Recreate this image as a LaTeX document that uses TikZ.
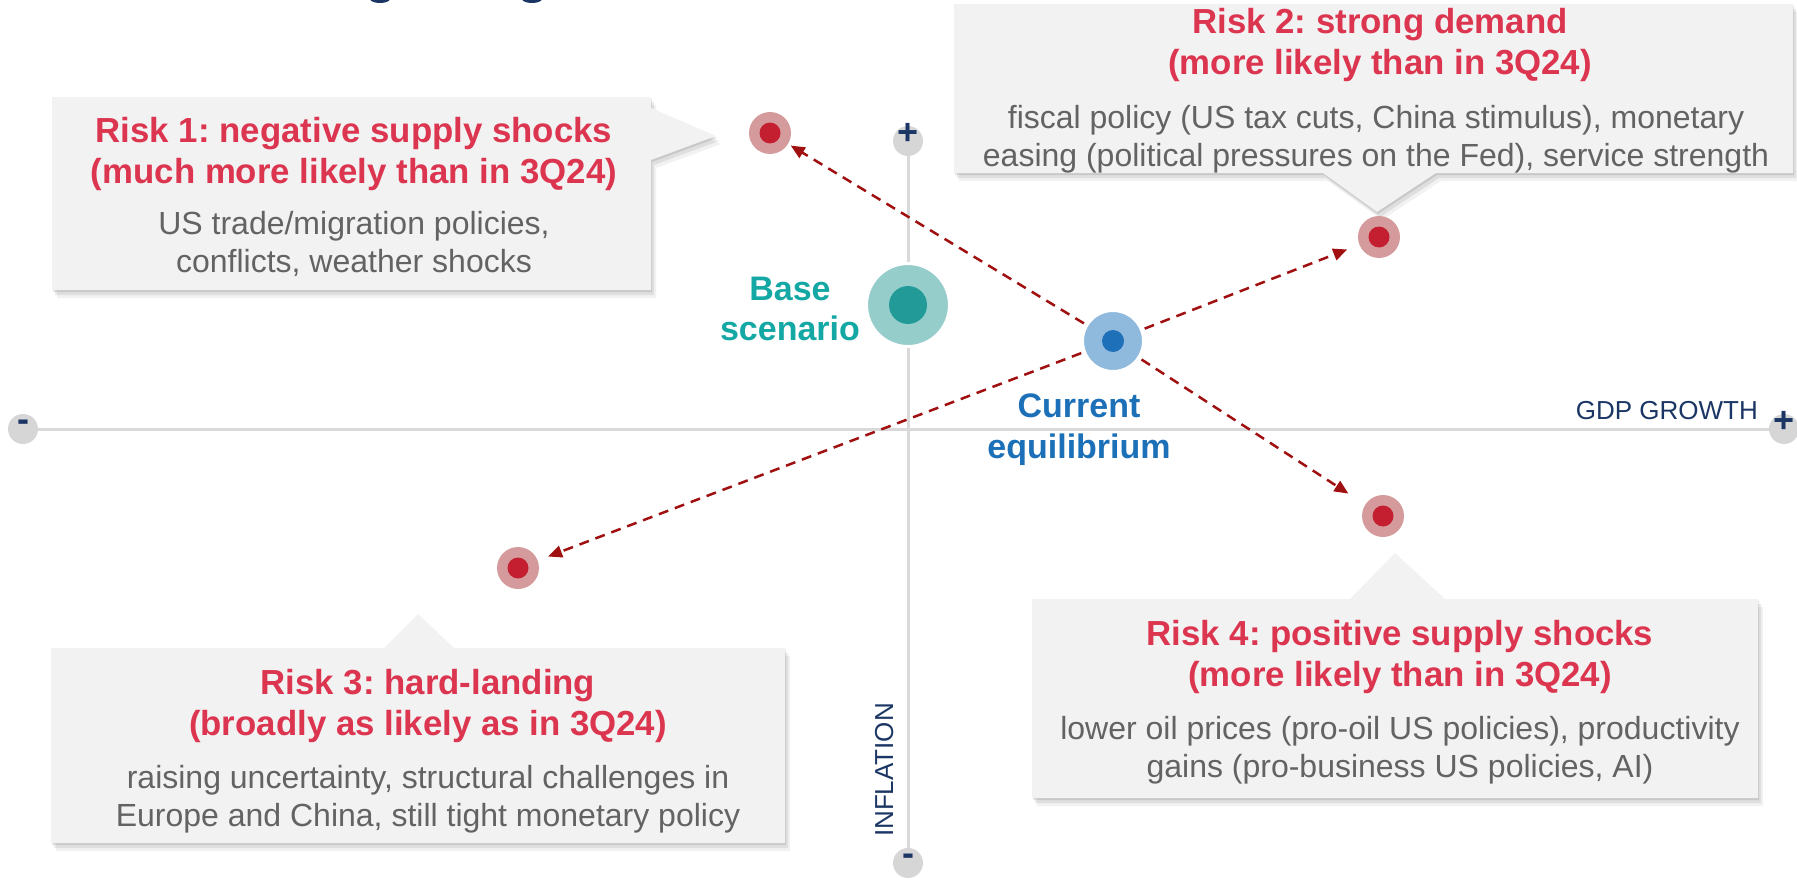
\documentclass[tikz,border=0pt]{standalone}
\usepackage{fontspec}
\setmainfont{Liberation Sans}
\frenchspacing
\usetikzlibrary{arrows.meta,shadows}
\definecolor{boxfill}{HTML}{F2F2F2}
\definecolor{riskred}{HTML}{DC3550}
\definecolor{bodygray}{HTML}{636363}
\definecolor{navyc}{HTML}{1B3664}
\definecolor{axisgray}{HTML}{D9D9D9}
\definecolor{axendgray}{HTML}{D6D6D6}
\definecolor{basetext}{HTML}{13A8A4}
\definecolor{baseouter}{HTML}{95CDCB}
\definecolor{baseinner}{HTML}{229A97}
\definecolor{curtext}{HTML}{1C70B7}
\definecolor{curouter}{HTML}{8FB9DD}
\definecolor{curinner}{HTML}{1E71B8}
\definecolor{dotouter}{HTML}{D59B9C}
\definecolor{dotinner}{HTML}{C31F31}
\definecolor{arrowred}{HTML}{A01010}
\begin{document}
\begin{tikzpicture}[x=1pt,y=-1pt,
  callout/.style={fill=boxfill,
    general shadow={shadow xshift=1pt,shadow yshift=-2pt,fill=black,opacity=0.10},
    general shadow={shadow xshift=3pt,shadow yshift=-5pt,fill=black,opacity=0.08},
    general shadow={shadow xshift=5pt,shadow yshift=-8pt,fill=black,opacity=0.05}},
  titletext/.style={text=riskred,align=center,inner sep=0pt,anchor=base,
    font=\fontsize{34.8}{41.5}\selectfont\bfseries},
  bodytext/.style={text=bodygray,align=center,inner sep=0pt,anchor=base,
    font=\fontsize{32}{38}\selectfont},
  axisline/.style={draw=axisgray,line width=3pt},
  axend/.style={circle,fill=axendgray,minimum size=30pt,inner sep=0pt,text=navyc,
    font=\fontsize{36}{36}\selectfont\bfseries},
  axislabel/.style={text=navyc,inner sep=0pt,font=\fontsize{26}{26}\selectfont},
  riskdot/.style={circle,fill=dotouter,minimum size=42pt,inner sep=0pt,
    path picture={\fill[dotinner] (path picture bounding box.center) circle (10.5pt);}},
  arr/.style={draw=arrowred,line width=2.5pt,dash pattern=on 10pt off 7pt,
    -{Triangle[length=14pt,width=12pt]}}
]
\useasboundingbox (0,0) rectangle (1797,883);

% cropped title fragments at the top edge
\fill[navyc] (380,-1) ellipse (10pt and 4pt);
\fill[navyc] (532,-1) ellipse (10pt and 4pt);

% axes
\node[axend,text height=0.56em,text depth=0pt] (xminus) at (23,429) {-};
\node[axend,text height=0.70em,text depth=0pt] (xplus) at (1784,429) {+};
\node[axend,text height=0.70em,text depth=0pt] (yplus) at (908,141) {+};
\node[axend,text height=0.56em,text depth=0pt] (yminus) at (908,863) {-};
\draw[axisline] (xminus) -- (xplus);
\draw[axisline] (yplus) -- (yminus);
\node[axislabel,anchor=base east] (gdp) at (1758,419) {GDP GROWTH};
\node[axislabel,anchor=base,rotate=90] (infl) at (893,770) {INFLATION};

% callout boxes
\path[callout] (52,97) -- (651,97) -- (651,108) -- (716,136) -- (651,160) -- (651,290) -- (52,290) -- cycle;
\path[callout] (954,4) -- (1793,4) -- (1793,173) -- (1436,173) -- (1377,212) -- (1323,173) -- (954,173) -- cycle;
\path[callout] (51,648) -- (384,648) -- (418,614) -- (454,648) -- (785,648) -- (785,843) -- (51,843) -- cycle;
\path[callout] (1032,599) -- (1350,599) -- (1395,553) -- (1445,599) -- (1758,599) -- (1758,798) -- (1032,798) -- cycle;

% callout texts (anchor = baseline of the last line)
\node[titletext] (t1) at (354,183.5) {Risk 1: negative supply shocks\\(much more likely than in 3Q24)};
\node[bodytext] (b1) at (354,272) {US trade/migration policies,\\conflicts, weather shocks};
\node[titletext] (t2) at (1380,74.5) {Risk 2: strong demand\\(more likely than in 3Q24)};
\node[bodytext] (b2) at (1376,166) {fiscal policy (US tax cuts, China stimulus), monetary\\easing (political pressures on the Fed), service strength};
\node[titletext] (t3) at (428,735.5) {Risk 3: hard-landing\\(broadly as likely as in 3Q24)};
\node[bodytext] (b3) at (428,826) {raising uncertainty, structural challenges in\\Europe and China, still tight monetary policy};
\node[titletext] (t4) at (1400,686.5) {Risk 4: positive supply shocks\\(more likely than in 3Q24)};
\node[bodytext] (b4) at (1400,777) {lower oil prices (pro-oil US policies), productivity\\gains (pro-business US policies, AI)};

% risk dots
\node[riskdot] (r1) at (770,133) {};
\node[riskdot] (r2) at (1379,237) {};
\node[riskdot] (r3) at (518,568) {};
\node[riskdot] (r4) at (1383,516) {};

% current equilibrium & arrows
\coordinate (curc) at (1113,341);
\draw[arr,shorten >=3pt] (curc) -- (r1);
\draw[arr,shorten >=13pt] (curc) -- (r2);
\draw[arr,shorten >=11pt] (curc) -- (r3);
\draw[arr,shorten >=20pt] (curc) -- (r4);
\node[circle,fill=curouter,draw=white,line width=3pt,minimum size=61pt,inner sep=0pt] (cur) at (curc) {};
\fill[curinner] (cur.center) circle (11pt);
\node[text=curtext,align=center,inner sep=0pt,anchor=base,
  font=\fontsize{34}{41}\selectfont\bfseries] (curlabel) at (1079,458) {Current\\equilibrium};

% base scenario
\node[circle,fill=baseouter,draw=white,line width=3pt,minimum size=83pt,inner sep=0pt] (base) at (908,305) {};
\fill[baseinner] (base.center) circle (19pt);
\node[text=basetext,align=center,inner sep=0pt,anchor=base,
  font=\fontsize{34}{40}\selectfont\bfseries] (baselabel) at (790,340) {Base\\scenario};
\end{tikzpicture}
\end{document}
